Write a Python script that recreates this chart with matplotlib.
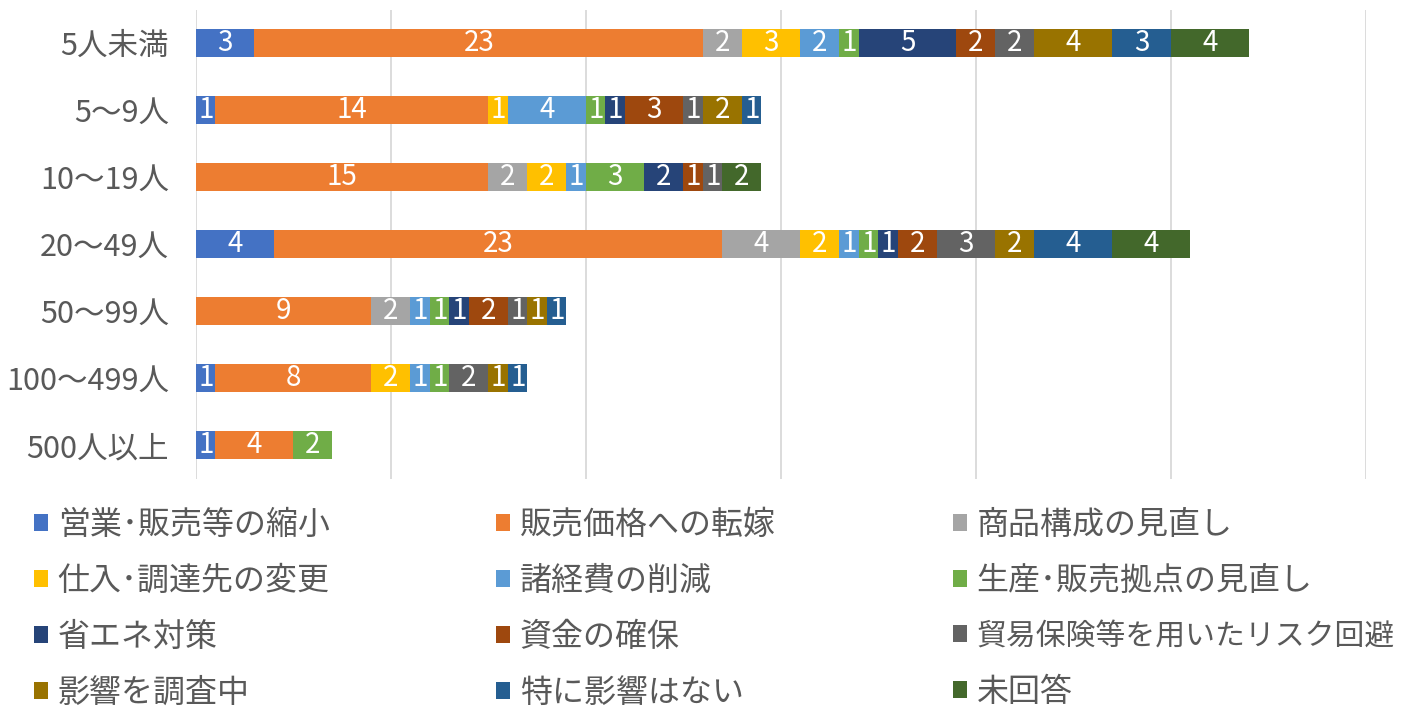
import numpy as np
import matplotlib
matplotlib.use("Agg")
import matplotlib.pyplot as plt
from matplotlib.patches import Patch

plt.rcParams['font.family'] = ['Noto Sans CJK JP', 'DejaVu Sans']

categories = ['5人未満', '5～9人', '10～19人', '20～49人', '50～99人', '100～499人', '500人以上']

series_names = [
    '営業･販売等の縮小', '販売価格への転嫁', '商品構成の見直し',
    '仕入･調達先の変更', '諸経費の削減', '生産･販売拠点の見直し',
    '省エネ対策', '資金の確保', '貿易保険等を用いたリスク回避',
    '影響を調査中', '特に影響はない', '未回答',
]

colors = ['#4472C4', '#ED7D31', '#A5A5A5', '#FFC000', '#5B9BD5', '#70AD47',
          '#264478', '#9E480E', '#636363', '#997300', '#255E91', '#43682B']

# counts per category (rows follow the categories list)
shukusho   = [3, 1, 0, 4, 0, 1, 1]
tenka      = [23, 14, 15, 23, 9, 8, 4]
shohin     = [2, 0, 2, 4, 2, 0, 0]
shiire     = [3, 1, 2, 2, 0, 2, 0]
keihi      = [2, 4, 1, 1, 1, 1, 0]
kyoten     = [1, 1, 3, 1, 1, 1, 2]
shoene     = [5, 1, 2, 1, 1, 0, 0]
shikin     = [2, 3, 1, 2, 2, 0, 0]
boeki      = [2, 1, 1, 3, 1, 2, 0]
chosachu   = [4, 2, 0, 2, 1, 1, 0]
eikyo_nashi = [3, 1, 0, 4, 1, 1, 0]
mikaito    = [4, 0, 2, 4, 0, 0, 0]

values = [shukusho, tenka, shohin, shiire, keihi, kyoten,
          shoene, shikin, boeki, chosachu, eikyo_nashi, mikaito]

fig = plt.figure(figsize=(14.01, 7.06), dpi=100)
ax = fig.add_axes([0.1399, 0.3222, 0.8351, 0.6643])

y = np.arange(len(categories))
left = np.zeros(len(categories))
for name, vals, c in zip(series_names, values, colors):
    vals = np.array(vals, dtype=float)
    bars = ax.barh(y, vals, left=left, height=0.42, color=c, label=name, zorder=3)
    for b, v in zip(bars, vals):
        if v > 0:
            ax.text(b.get_x() + b.get_width() / 2, b.get_y() + b.get_height() / 2,
                    f'{int(v)}', ha='center', va='center', color='white',
                    fontsize=20, zorder=4)
    left += vals

ax.set_xlim(0, 60)
ax.set_ylim(len(categories) - 0.5, -0.5)
ax.set_xticks(np.arange(0, 61, 10))
ax.set_xticklabels([])
ax.tick_params(axis='x', length=0)
ax.set_yticks(y)
ax.set_yticklabels(categories, fontsize=22, color='#595959')
ax.tick_params(axis='y', length=0, pad=19.5)
ax.grid(axis='x', color='#D9D9D9', linewidth=1.3, zorder=0)
for s in ax.spines.values():
    s.set_visible(False)

# legend in three columns, filled row by row
col_x = [0.024, 0.354, 0.680]
for ci in range(3):
    idx = [ci + 3 * r for r in range(4)]
    handles = [Patch(facecolor=colors[i]) for i in idx]
    labels = [series_names[i] for i in idx]
    leg = fig.legend(handles, labels, loc='upper left', bbox_to_anchor=(col_x[ci], 0.279),
                     frameon=False, fontsize=23, labelcolor='#595959',
                     handlelength=0.45, handleheight=0.45, handletextpad=0.3,
                     labelspacing=0.75, borderaxespad=0, borderpad=0)
    for t in leg.get_texts():
        if len(t.get_text()) > 12:
            t.set_fontsize(21.5)

fig.savefig('out.png', dpi=100)
